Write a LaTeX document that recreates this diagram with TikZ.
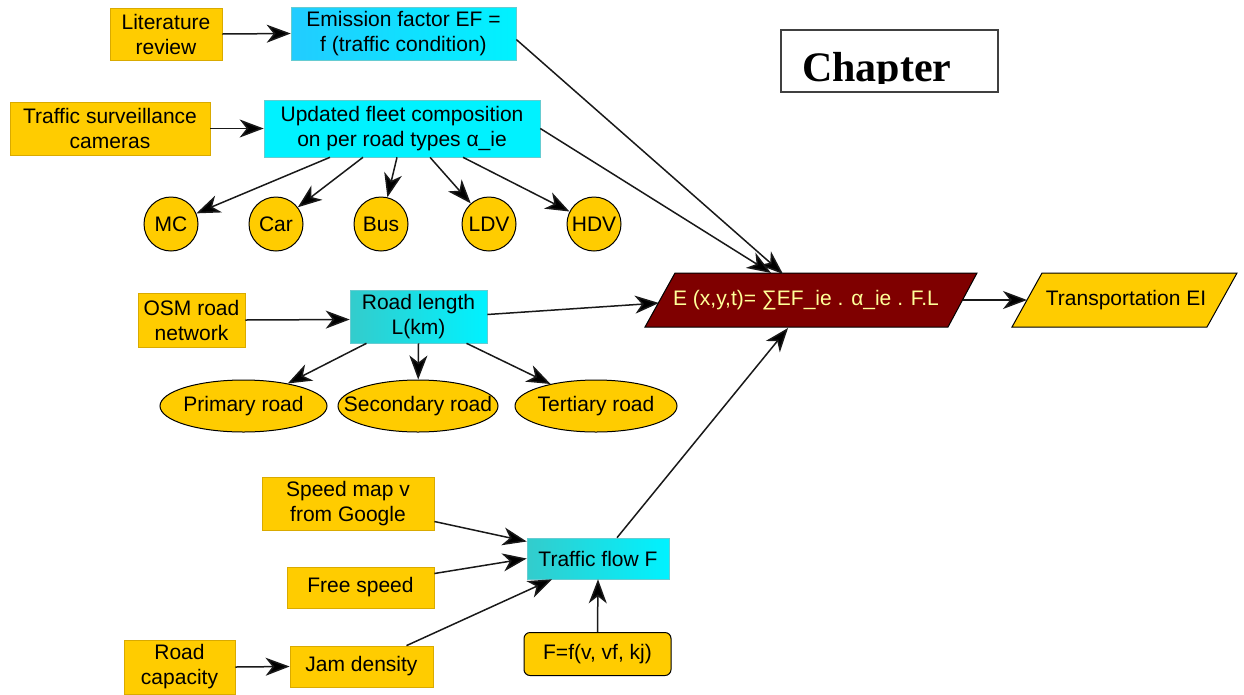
\documentclass[tikz,border=0pt]{standalone}
\usepackage{fontspec}
\setmainfont{Liberation Sans}
\newfontfamily\chapfont{Liberation Serif}
\usetikzlibrary{arrows.meta,shapes.geometric,calc}
\definecolor{yfill}{HTML}{FFCC00}
\definecolor{yedge}{HTML}{D9AA00}
\definecolor{cyanA}{HTML}{00F2FF}
\definecolor{cyanB}{HTML}{22CCFF}
\definecolor{tealA}{HTML}{33CCCC}
\definecolor{dred}{HTML}{7F0000}
\definecolor{etext}{HTML}{FFFF99}
\begin{document}
\begin{tikzpicture}[x=1pt,y=-1pt,
  txt/.style={font=\fontsize{21}{25}\selectfont, align=center, inner sep=0pt},
  ybox/.style={txt, fill=yfill, draw=yedge, line width=0.8pt},
  cbox/.style={txt, draw=cyanA!70!black!60, line width=0.6pt, left color=cyanB, right color=cyanA},
  tbox/.style={txt, draw=cyanA!70!black!60, line width=0.6pt, left color=tealA, right color=cyanA},
  ycirc/.style={txt, circle, fill=yfill, draw=black, line width=1pt, minimum size=54pt},
  yell/.style={txt, ellipse, fill=yfill, draw=black, line width=1pt, minimum height=52pt},
  arr/.style={draw=black!90, line width=1.5pt, -{Stealth[length=24pt,width=18pt,inset=7pt,fill=black]}}]
\useasboundingbox (0,0) rectangle (1244,694);

% top-left
\node[ybox, minimum width=112, minimum height=52] (lit) at (166,34) {Literature\\review};
\node[cbox, minimum width=225, minimum height=53] (emis) at (403.5,33.5) {Emission factor EF =\\f (traffic condition)};
\node[ybox, minimum width=200, minimum height=53] (cam) at (110,128.5) {Traffic surveillance\\cameras};
\node[txt, fill=cyanA, draw=cyanA!70!black!60, line width=0.6pt, minimum width=276, minimum height=57] (upd) at (402,128.5) {Updated fleet composition\\on per road types α\_ie};

\node[ycirc] (mc) at (171,224) {MC};
\node[ycirc] (car) at (276,224) {Car};
\node[ycirc] (bus) at (381,224) {Bus};
\node[ycirc] (ldv) at (489,224) {LDV};
\node[ycirc] (hdv) at (594,224) {HDV};

% chapter box
\node[draw=black!75, line width=1.2pt, fill=white, minimum width=217, minimum height=62, inner sep=0pt] (chap) at (889.5,61) {};
\begin{scope}
\clip (782,31) rectangle (997,83);
\node[anchor=base west, inner sep=0pt, font=\chapfont\bfseries\fontsize{42}{42}\selectfont] (chaptxt) at (802,81) {Chapter};
\end{scope}

% road network
\node[ybox, minimum width=107, minimum height=54] (osm) at (191.5,320) {OSM road\\network};
\node[tbox, minimum width=137, minimum height=53] (len) at (418.5,316.5) {Road length\\L(km)};
\node[yell, minimum width=167] (pri) at (243.5,406) {\makebox[0pt]{Primary road}};
\node[yell, minimum width=160] (sec) at (418,406) {\makebox[0pt]{Secondary road}};
\node[yell, minimum width=162] (ter) at (596,406) {\makebox[0pt]{Tertiary road}};

% E formula
\draw[fill=dred, draw=black, line width=1pt] (645,327) -- (675,273) -- (977,273) -- (948,327) -- cycle;
\node[txt, text=etext] (E) at (806,300) {E (x,y,t)= ∑EF\_ie . α\_ie . F.L};
\coordinate (Etop1) at (771,273);
\coordinate (Etop2) at (783,274);
\coordinate (Eleft) at (659,303);
\coordinate (Ebot) at (788,328);
\coordinate (Eright) at (963,300);

\draw[fill=yfill, draw=black, line width=1pt] (1012,327) -- (1042,273) -- (1237,273) -- (1207,327) -- cycle;
\node[txt] (tei) at (1126,300) {Transportation EI};
\coordinate (Tleft) at (1027,300);

% traffic flow
\node[ybox, minimum width=172, minimum height=53] (spd) at (348,503.5) {Speed map v\\from Google};
\node[ybox, minimum width=147, minimum height=41] (free) at (360.5,587.5) {Free speed};
\node[tbox, minimum width=142, minimum height=41] (flow) at (598,558.5) {Traffic flow F};
\node[ybox, minimum width=111, minimum height=54] (cap) at (179.5,667) {Road\\capacity};
\node[ybox, minimum width=143, minimum height=41] (jam) at (361.5,666.5) {Jam density};
\node[txt, fill=yfill, draw=black, line width=1pt, rounded corners=6pt, minimum width=147, minimum height=43] (ff) at (597.5,654) {F=f(v, vf, kj)};

% connectors
\draw[arr] (lit.east) -- (emis.west);
\draw[arr] (cam.east) -- (upd.west);
\draw[arr] ([yshift=-6]emis.east) -- (Etop2);
\draw[arr] (upd.east) -- (Etop1);
\draw[arr] ([xshift=-72]upd.south) -- (mc);
\draw[arr] ([xshift=-39]upd.south) -- (car);
\draw[arr] ([xshift=-5]upd.south) -- (bus);
\draw[arr] ([xshift=28]upd.south) -- (ldv);
\draw[arr] ([xshift=61]upd.south) -- (hdv);
\draw[arr] (osm.east) -- ([yshift=-3]len.west);
\draw[arr] ([yshift=2]len.east) -- (Eleft);
\draw[arr] ([xshift=-52]len.south) -- (pri);
\draw[arr] (len.south) -- (sec);
\draw[arr] ([xshift=48]len.south) -- (ter);
\draw[arr] (Eright) -- (Tleft);
\draw[arr] ([yshift=-18]spd.east) -- ([yshift=17]flow.west);
\draw[arr] ([yshift=14]free.east) -- (flow.west);
\draw[arr] ([xshift=45]jam.north) -- ([xshift=-46]flow.south);
\draw[arr] (cap.east) -- (jam.west);
\draw[arr] (ff.north) -- (flow.south);
\draw[arr] ([xshift=19]flow.north) -- (Ebot);
\end{tikzpicture}
\end{document}
